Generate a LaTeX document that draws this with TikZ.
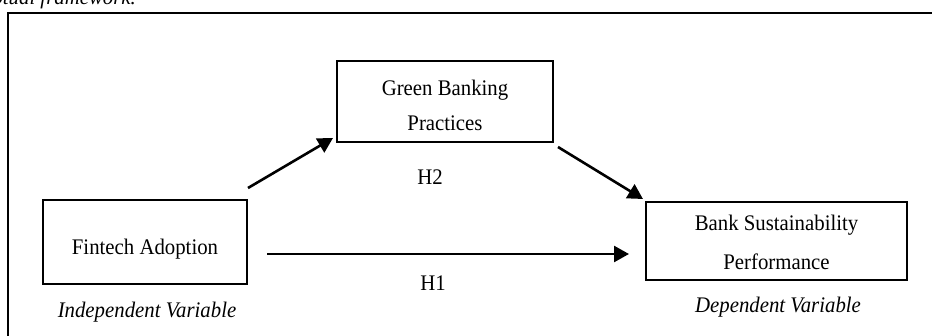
\documentclass[tikz,border=0pt]{standalone}
\usepackage{fontspec}
\setmainfont{Liberation Serif}
\usetikzlibrary{arrows.meta}
\newcommand\vstretch[1]{\scalebox{1}[1.07]{#1}}
\begin{document}
\begin{tikzpicture}[x=1pt,y=-1pt,
  box/.style={draw=black,line width=2pt,inner sep=0pt},
  lbl/.style={font=\fontsize{20.8}{24}\selectfont,inner sep=0pt},
  ital/.style={font=\fontsize{20.8}{24}\selectfont\itshape,inner sep=0pt},
  conn/.style={line width=2.6pt,-{Triangle[length=15pt,width=16pt]}}]
\useasboundingbox (0,0) rectangle (932,336);
\clip (0,0) rectangle (932,336);
\fill[white] (0,0) rectangle (932,336);
% caption (cut off at top, as in the source)
\node[ital,anchor=base east] (cap) at (136,5) {Conceptual framework.};
% outer frame
\draw[line width=1.6pt] (8,13) rectangle (945,350);
% boxes
\node[box,minimum width=216pt,minimum height=81pt] (gb) at (445,101.5) {};
\node[box,minimum width=204pt,minimum height=84pt] (fa) at (145,242) {};
\node[box,minimum width=261pt,minimum height=78pt] (bs) at (776.5,241) {};
% box texts
\node[lbl] (gbt1) at (445,90) {\vstretch{Green Banking}};
\node[lbl] (gbt2) at (445,123) {\vstretch{Practices}};
\node[lbl] (fat) at (145,249) {\vstretch{Fintech Adoption}};
\node[lbl] (bst1) at (776.5,225) {\vstretch{Bank Sustainability}};
\node[lbl] (bst2) at (776.5,262) {\vstretch{Performance}};
% labels
\node[lbl] (h2) at (430,177) {\vstretch{H2}};
\node[lbl] (h1) at (433,283) {\vstretch{H1}};
\node[ital] (iv) at (147,312) {\vstretch{Independent Variable}};
\node[ital] (dv) at (778,307) {\vstretch{Dependent Variable}};
% connector ends
\coordinate (a1s) at (248,188);
\coordinate (a1e) at (333,138);
\coordinate (a2s) at (558,147);
\coordinate (a2e) at (643,199);
\coordinate (a3s) at (267,254);
\coordinate (a3e) at (629,254);
\draw[conn] (a1s) -- (a1e);
\draw[conn] (a2s) -- (a2e);
\draw[conn] (a3s) -- (a3e);
\end{tikzpicture}
\end{document}
